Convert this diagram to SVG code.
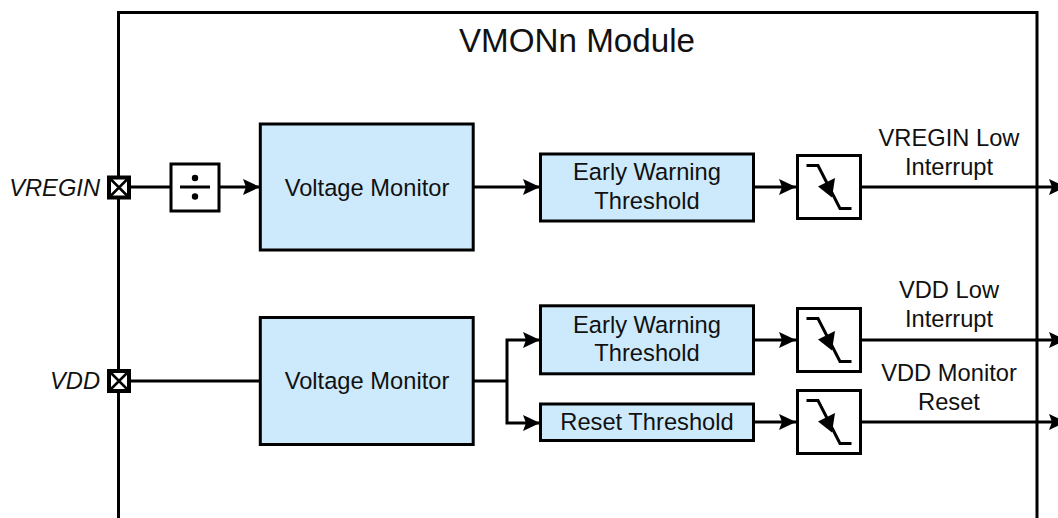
<svg xmlns="http://www.w3.org/2000/svg" width="1058" height="518" viewBox="0 0 1058 518">
<style>
text{font-family:"Liberation Sans",Arial,sans-serif;fill:#111;font-size:23.7px;text-anchor:middle}
.it{font-style:italic;font-size:23.7px;text-anchor:end}
.b{fill:#cdeafd;stroke:#000;stroke-width:3}
.w{fill:#fff;stroke:#000;stroke-width:3}
.p{fill:#fff;stroke:#000;stroke-width:4}
.l{fill:none;stroke:#000;stroke-width:3}
.x{fill:none;stroke:#000;stroke-width:2.500}
.a{fill:none;stroke:#000;stroke-width:3;marker-end:url(#ah)}
.s{fill:none;stroke:#000;stroke-width:3}
</style>
<defs>
<marker id="ah" markerUnits="userSpaceOnUse" markerWidth="18" markerHeight="18" refX="17" refY="9" orient="auto"><path d="M0,1 L17,9 L0,17 L3,9 Z" fill="#000"/></marker>
<g id="sch"><rect class="w" x="-31.500" y="-31.500" width="63" height="63"/><path class="s" d="M-22.500,-21.500 H-11 L11,21.500 H22.500"/><path d="M-11,-0.500 L6,-9 L3,10.500 Z" fill="#000"/></g>
</defs>
<g id="module"><path class="l" d="M118.500,518 V12.500 H1037 V518"/><text x="577" y="52" style="font-size:33.200px">VMONn Module</text></g>
<g id="connectors">
<path class="l" d="M130,187 H171"/>
<path class="a" d="M219,187 H260"/>
<path class="a" d="M473,187 H540"/>
<path class="a" d="M754,187 H796"/>
<path class="a" d="M860,187 H1066"/>
<path class="l" d="M130,381 H260"/>
<path class="l" d="M473,381 H507"/>
<path class="a" d="M507,381 V340 H540"/>
<path class="a" d="M507,381 V423 H540"/>
<path class="a" d="M754,340 H796"/>
<path class="a" d="M754,422 H796"/>
<path class="a" d="M860,340 H1066"/>
<path class="a" d="M860,422 H1066"/>
</g>
<g id="pin-vregin"><rect class="p" x="109" y="177.500" width="20" height="20"/><path class="x" d="M109,177.500 L129,197.500 M129,177.500 L109,197.500"/><text class="it" x="100" y="195.500">VREGIN</text></g>
<g id="pin-vdd"><rect class="p" x="109" y="371" width="20" height="20"/><path class="x" d="M109,371 L129,391 M129,371 L109,391"/><text class="it" x="100" y="388.500">VDD</text></g>
<g id="divider"><rect class="w" x="171" y="164" width="48" height="47"/><path class="l" d="M180,187 H210"/><circle cx="195" cy="178" r="3.200"/><circle cx="195" cy="196.500" r="3.200"/></g>
<g id="vm1"><rect class="b" x="260.300" y="124" width="212.900" height="126"/><text x="367" y="196">Voltage Monitor</text></g>
<g id="vm2"><rect class="b" x="260.300" y="317.500" width="212.900" height="127"/><text x="367" y="389">Voltage Monitor</text></g>
<g id="ew1"><rect class="b" x="540.500" y="154" width="213" height="67"/><text x="647" y="180">Early Warning</text><text x="647" y="209">Threshold</text></g>
<g id="ew2"><rect class="b" x="540.500" y="305.800" width="213" height="68"/><text x="647" y="333">Early Warning</text><text x="647" y="361">Threshold</text></g>
<g id="rt"><rect class="b" x="540.500" y="404" width="213" height="36.500"/><text x="647" y="430">Reset Threshold</text></g>
<use id="sch1" href="#sch" x="829" y="187"/>
<use id="sch2" href="#sch" x="829" y="340"/>
<use id="sch3" href="#sch" x="829" y="422"/>
<g id="labels">
<text x="949" y="146">VREGIN Low</text><text x="949" y="175">Interrupt</text>
<text x="949" y="298">VDD Low</text><text x="949" y="327">Interrupt</text>
<text x="949" y="381">VDD Monitor</text><text x="949" y="410">Reset</text>
</g>
</svg>
